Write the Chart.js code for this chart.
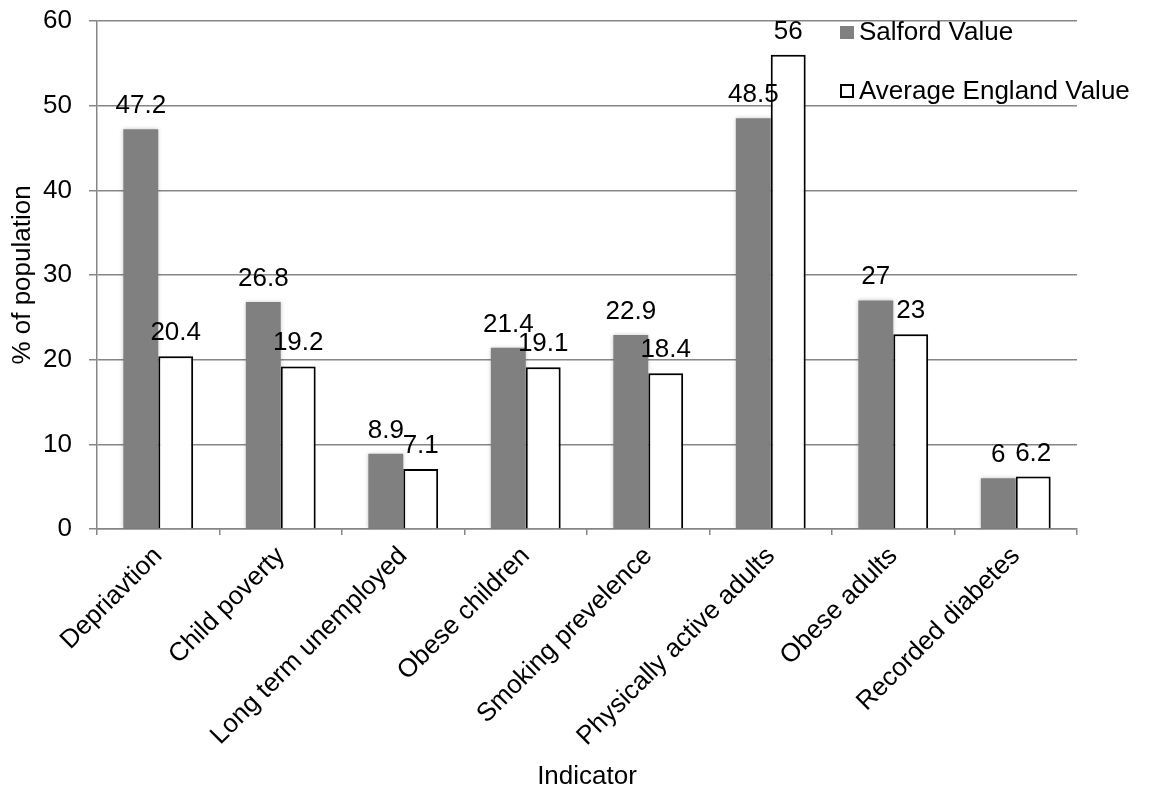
<!DOCTYPE html>
<html>
<head>
<meta charset="utf-8">
<script src="https://cdn.jsdelivr.net/npm/chart.js@4/dist/chart.umd.min.js"></script>
<style>
  html, body { margin: 0; padding: 0; background: #fff; }
  #wrap { width: 1157px; height: 795px; }
</style>
</head>
<body>
<div id="wrap"><canvas id="c" width="1157" height="795"></canvas></div>
<script>
const categories = [
  'Depriavtion', 'Child poverty', 'Long term unemployed', 'Obese children',
  'Smoking prevelence', 'Physically active adults', 'Obese adults', 'Recorded diabetes'
];
const salfordValues = [47.2, 26.8, 8.9, 21.4, 22.9, 48.5, 27, 6];
const englandValues = [20.4, 19.2, 7.1, 19.1, 18.4, 56, 23, 6.2];
const yTicks = [0, 10, 20, 30, 40, 50, 60];

const FONT = 'Liberation Sans, Arial, sans-serif';
const FONT_SIZE = 26;
const GRID = '#868686';

// Value labels above each bar
const valueLabels = {
  id: 'valueLabels',
  afterDatasetsDraw(chart) {
    const ctx = chart.ctx;
    ctx.save();
    ctx.font = FONT_SIZE + 'px ' + FONT;
    ctx.fillStyle = '#000';
    ctx.textAlign = 'center';
    ctx.textBaseline = 'alphabetic';
    chart.data.datasets.forEach((ds, di) => {
      chart.getDatasetMeta(di).data.forEach((bar, i) => {
        ctx.fillText(String(ds.data[i]), bar.x, bar.y - 16);
      });
    });
    ctx.restore();
  }
};

// Soft shadow around the bars
const barShadow = {
  id: 'barShadow',
  beforeDatasetDraw(chart) {
    const ctx = chart.ctx;
    ctx.save();
    ctx.shadowColor = 'rgba(0,0,0,0.22)';
    ctx.shadowBlur = 4;
  },
  afterDatasetDraw(chart) {
    chart.ctx.restore();
  }
};

// Stacked legend in the top-right corner
const cornerLegend = {
  id: 'cornerLegend',
  afterDraw(chart) {
    const ctx = chart.ctx;
    const rows = [33, 92];
    ctx.save();
    ctx.font = FONT_SIZE + 'px ' + FONT;
    ctx.textBaseline = 'middle';
    ctx.textAlign = 'left';
    chart.data.datasets.forEach((ds, i) => {
      const y = rows[i];
      if (ds.borderWidth > 0) {
        ctx.fillStyle = ds.backgroundColor;
        ctx.fillRect(841, y - 7, 12, 12);
        ctx.strokeStyle = ds.borderColor;
        ctx.lineWidth = 2;
        ctx.strokeRect(841, y - 7, 12, 12);
      } else {
        ctx.fillStyle = ds.backgroundColor;
        ctx.fillRect(840, y - 7, 14, 13);
      }
      ctx.fillStyle = '#000';
      ctx.fillText(ds.label, 859, y);
    });
    ctx.restore();
  }
};

new Chart(document.getElementById('c'), {
  type: 'bar',
  data: {
    labels: categories,
    datasets: [
      {
        label: 'Salford Value',
        data: salfordValues,
        backgroundColor: '#808080',
        borderWidth: 0
      },
      {
        label: 'Average England Value',
        data: englandValues,
        backgroundColor: '#ffffff',
        borderColor: '#000000',
        borderWidth: 2
      }
    ]
  },
  options: {
    responsive: false,
    animation: false,
    layout: { padding: { left: 0, top: 21, right: 80, bottom: 0 } },
    datasets: {
      bar: { categoryPercentage: 0.57, barPercentage: 1.0 }
    },
    plugins: {
      legend: { display: false },
      tooltip: { enabled: false }
    },
    scales: {
      x: {
        grid: {
          display: true,
          drawOnChartArea: false,
          drawTicks: true,
          tickLength: 6,
          color: GRID,
          lineWidth: 1.5,
          offset: true
        },
        border: { display: true, color: GRID, width: 1.5 },
        ticks: {
          color: '#000',
          font: { family: FONT, size: FONT_SIZE },
          minRotation: 45,
          maxRotation: 45,
          padding: 6
        },
        title: {
          display: true,
          text: 'Indicator',
          color: '#000',
          font: { family: FONT, size: FONT_SIZE },
          padding: { top: 0, bottom: 3 }
        },
        afterFit(scale) {
          scale.height = 266;
          scale.paddingLeft = 0;
          scale.paddingRight = 0;
        }
      },
      y: {
        min: 0,
        max: 60,
        afterBuildTicks(scale) { scale.ticks = yTicks.map(v => ({ value: v })); },
        grid: {
          color: GRID,
          lineWidth: 1.5,
          tickLength: 8
        },
        border: { display: true, color: GRID, width: 1.5 },
        ticks: {
          color: '#000',
          font: { family: FONT, size: FONT_SIZE },
          padding: 17
        },
        title: {
          display: true,
          text: '% of population',
          color: '#000',
          font: { family: FONT, size: FONT_SIZE },
          padding: { top: 7, bottom: 0 }
        },
        afterFit(scale) {
          scale.width = 97;
          scale.paddingTop = 0;
          scale.paddingBottom = 0;
        }
      }
    }
  },
  plugins: [barShadow, valueLabels, cornerLegend]
});
</script>
</body>
</html>
